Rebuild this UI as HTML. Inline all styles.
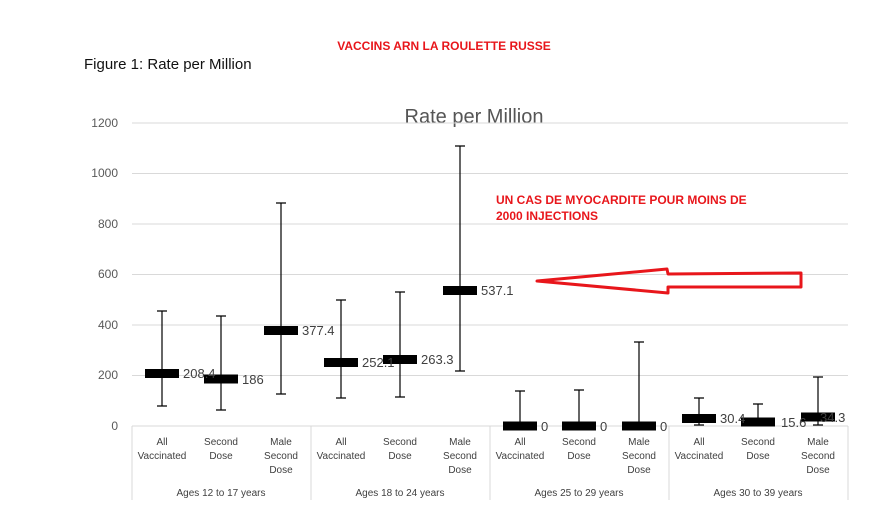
<!DOCTYPE html>
<html><head><meta charset="utf-8"><style>
body{margin:0;background:#fff;}
svg{display:block;font-family:"Liberation Sans",sans-serif;}
</style></head><body>
<svg width="888" height="510" viewBox="0 0 888 510">
<text x="444" y="50" text-anchor="middle" font-size="12" font-weight="bold" fill="#e8161b">VACCINS ARN  LA ROULETTE RUSSE</text>
<text x="84" y="69" font-size="15" fill="#111">Figure 1: Rate per Million</text>
<text x="474" y="123" text-anchor="middle" font-size="20" fill="#555">Rate per Million</text>
<g stroke="#d9d9d9" stroke-width="1">
<line x1="132" y1="123" x2="848" y2="123"/><line x1="132" y1="173.5" x2="848" y2="173.5"/>
<line x1="132" y1="224" x2="848" y2="224"/><line x1="132" y1="274.5" x2="848" y2="274.5"/>
<line x1="132" y1="325" x2="848" y2="325"/><line x1="132" y1="375.5" x2="848" y2="375.5"/>
<line x1="132" y1="426" x2="848" y2="426"/>
<line x1="132" y1="426" x2="132" y2="500"/><line x1="311" y1="426" x2="311" y2="500"/>
<line x1="490" y1="426" x2="490" y2="500"/><line x1="669" y1="426" x2="669" y2="500"/>
<line x1="848" y1="426" x2="848" y2="500"/>
</g>
<g font-size="12" fill="#595959" text-anchor="end">
<text x="118" y="127">1200</text><text x="118" y="177">1000</text><text x="118" y="228">800</text>
<text x="118" y="278">600</text><text x="118" y="329">400</text><text x="118" y="379">200</text><text x="118" y="430">0</text>
</g>
<g stroke="#000" stroke-width="1.2">
<path d="M162 311V406M157 311h10M157 406h10"/>
<path d="M221 316V410M216 316h10M216 410h10"/>
<path d="M281 203V394M276 203h10M276 394h10"/>
<path d="M341 300V398M336 300h10M336 398h10"/>
<path d="M400 292V397M395 292h10M395 397h10"/>
<path d="M460 146V371M455 146h10M455 371h10"/>
<path d="M520 391V426M515 391h10"/>
<path d="M579 390V426M574 390h10"/>
<path d="M639 342V426M634 342h10"/>
<path d="M699 398V425M694 398h10M694 425h10"/>
<path d="M758 404V425M753 404h10"/>
<path d="M818 377V425M813 377h10M813 425h10"/>
</g>
<g fill="#000">
<rect x="145" y="369" width="34" height="9"/>
<rect x="204" y="374.5" width="34" height="9"/>
<rect x="264" y="326" width="34" height="9"/>
<rect x="324" y="358" width="34" height="9"/>
<rect x="383" y="355" width="34" height="9"/>
<rect x="443" y="286" width="34" height="9"/>
<rect x="503" y="421.5" width="34" height="9"/>
<rect x="562" y="421.5" width="34" height="9"/>
<rect x="622" y="421.5" width="34" height="9"/>
<rect x="682" y="414" width="34" height="9"/>
<rect x="741" y="417.5" width="34" height="9"/>
<rect x="801" y="412.5" width="34" height="9"/>
</g>
<g font-size="13" fill="#404040">
<text x="183" y="378">208.4</text><text x="242" y="384">186</text><text x="302" y="335">377.4</text>
<text x="362" y="367">252.1</text><text x="421" y="364">263.3</text><text x="481" y="295">537.1</text>
<text x="541" y="431">0</text><text x="600" y="431">0</text><text x="660" y="431">0</text>
<text x="720" y="423">30.4</text><text x="781" y="427">15.6</text><text x="820" y="422">34.3</text>
</g>
<g font-size="10" fill="#404040" text-anchor="middle">
<text x="162" y="445">All</text><text x="162" y="459">Vaccinated</text>
<text x="221" y="445">Second</text><text x="221" y="459">Dose</text>
<text x="281" y="445">Male</text><text x="281" y="459">Second</text><text x="281" y="473">Dose</text>
<text x="341" y="445">All</text><text x="341" y="459">Vaccinated</text>
<text x="400" y="445">Second</text><text x="400" y="459">Dose</text>
<text x="460" y="445">Male</text><text x="460" y="459">Second</text><text x="460" y="473">Dose</text>
<text x="520" y="445">All</text><text x="520" y="459">Vaccinated</text>
<text x="579" y="445">Second</text><text x="579" y="459">Dose</text>
<text x="639" y="445">Male</text><text x="639" y="459">Second</text><text x="639" y="473">Dose</text>
<text x="699" y="445">All</text><text x="699" y="459">Vaccinated</text>
<text x="758" y="445">Second</text><text x="758" y="459">Dose</text>
<text x="818" y="445">Male</text><text x="818" y="459">Second</text><text x="818" y="473">Dose</text>
<text x="221" y="496">Ages 12 to 17 years</text><text x="400" y="496">Ages 18 to 24 years</text>
<text x="579" y="496">Ages 25 to 29 years</text><text x="758" y="496">Ages 30 to 39 years</text>
</g>
<g font-size="12" fill="#e8161b" font-weight="bold">
<text x="496" y="204">UN CAS DE MYOCARDITE POUR MOINS DE</text>
<text x="496" y="220">2000 INJECTIONS</text>
</g>
<polygon points="537,281 667,269 668,274 801,273 801,287 668,287 668,293" fill="none" stroke="#e8161b" stroke-width="3" stroke-linejoin="round"/>
</svg>
</body></html>
